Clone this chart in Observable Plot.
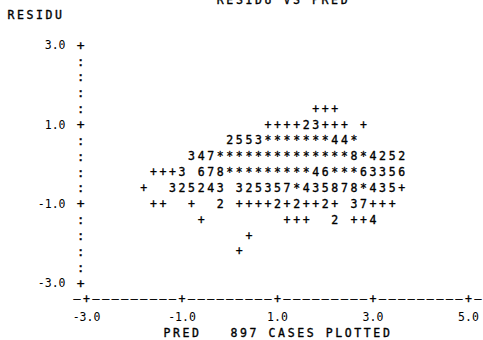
<!DOCTYPE html>
<html><head><meta charset="utf-8">
<script src="https://cdn.jsdelivr.net/npm/d3@7"></script>
<script src="https://cdn.jsdelivr.net/npm/@observablehq/plot@0.6"></script>
<style>
html,body{margin:0;padding:0;background:#fff;}
.spaced text{letter-spacing:2.6px;}
</style>
</head><body><div id="chart"></div>
<script>
// ---- chart content ----
const title = "RESIDU VS PRED";
const yLabel = "RESIDU";
const xLabel = "PRED";
const caption = "897 CASES PLOTTED";
const xTicks = [-3, -1, 1, 3, 5];
const yTicks = [3, 1, -1, -3];
// printer-plot rows: residual value of each print line, first PRED column, printed symbols
const rowY = [1.4, 1.0, 0.6, 0.2, -0.2, -0.6, -1.0, -1.4, -1.8, -2.2];
const rowStart = [1.8, 0.8, 0.0, -0.8, -1.6, -1.8, -1.6, -0.6, 0.4, 0.2];
const rowText = [
  "+++",
  "++++23+++ +",
  "2553*******44*",
  "347**************8*4252",
  "+++3 678*********46***63356",
  "+  325243 325357*435878*435+",
  "++  +  2 ++++2+2++2+ 37+++",
  "+        +++  2 ++4",
  "+",
  "+"
];

// ---- printer grid (one column = 0.2 PRED units, one line = 0.4 RESIDU units) ----
const colStep = 0.2, rowStep = 0.4;
const font = "DejaVu Sans Mono";
const fs = 11.5;

const chars = [];
rowText.forEach((s, r) => {
  [...s].forEach((c, i) => {
    if (c !== " ") chars.push({x: rowStart[r] + i * colStep, y: rowY[r], c});
  });
});

const yMin = d3.min(yTicks), yMax = d3.max(yTicks);
const nRows = Math.round((yMax - yMin) / rowStep);
const yAxisCol = yMin - 0.12;
const yAxisGlyphs = d3.range(nRows + 1).map(i => {
  const v = yMin + i * rowStep;
  return {y: v, c: yTicks.some(t => Math.abs(t - v) < 1e-6) ? "+" : ":"};
});

const xMin = d3.min(xTicks), xMax = d3.max(xTicks);
const nCols = Math.round((xMax - xMin) / colStep);
const xAxisLine = yMin - rowStep;
const xAxisGlyphs = d3.range(-1, nCols + 2).map(i => {
  const v = xMin + i * colStep;
  return {x: v, c: xTicks.some(t => Math.abs(t - v) < 1e-6) ? "+" : "\u2013"};
});

const txt = {fill: "#000", fontSize: fs, stroke: "#000", strokeWidth: 0.35};

const chart = Plot.plot({
  width: 483,
  height: 340,
  marginLeft: 70,
  marginRight: 0,
  marginTop: 0,
  marginBottom: 30,
  style: {fontFamily: font, fontSize: fs + "px", background: "#fff", color: "#000"},
  x: {domain: [xMin, xMax], range: [86, 468]},
  y: {domain: [yMin, yMax], range: [283, 45]},
  marks: [
    Plot.axisY(yTicks, {anchor: "left", tickSize: 0, tickPadding: 5, tickFormat: d => d.toFixed(1), label: null, ...txt}),
    Plot.axisX(xTicks, {anchor: "bottom", tickSize: 0, tickPadding: 2, tickFormat: d => d.toFixed(1), label: null, ...txt}),
    Plot.text(yAxisGlyphs, {x: () => yAxisCol, y: "y", text: "c", ...txt, fontSize: 13}),
    Plot.text(xAxisGlyphs, {x: "x", y: () => xAxisLine, text: "c", ...txt}),
    Plot.text(chars, {x: "x", y: "y", text: "c", ...txt}),
    Plot.text([title], {frameAnchor: "top-left", lineAnchor: "middle", dx: 213, dy: 0, textAnchor: "middle", className: "spaced", ...txt}),
    Plot.text([yLabel], {frameAnchor: "top-left", lineAnchor: "middle", dx: -63, dy: 15, textAnchor: "start", className: "spaced", ...txt}),
    Plot.text([xLabel], {frameAnchor: "bottom-left", lineAnchor: "middle", dx: 93, dy: 23, textAnchor: "start", className: "spaced", ...txt}),
    Plot.text([caption], {frameAnchor: "bottom-left", lineAnchor: "middle", dx: 160, dy: 23, textAnchor: "start", className: "spaced", ...txt})
  ]
});
document.getElementById("chart").appendChild(chart);
</script>
</body></html>
